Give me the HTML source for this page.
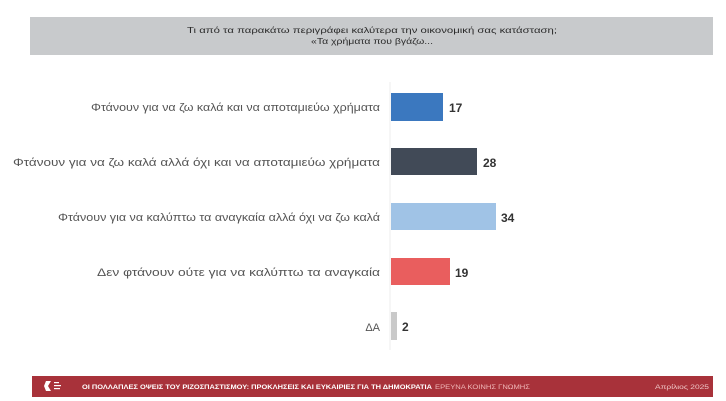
<!DOCTYPE html>
<html><head><meta charset="utf-8"><style>
body{margin:0;background:#fff;}
svg{display:block;font-family:"Liberation Sans","DejaVu Sans",sans-serif;}
</style></head><body>
<svg width="726" height="401" viewBox="0 0 726 401">
<rect x="0" y="0" width="726" height="401" fill="#fff"/>
<rect x="30" y="17" width="683" height="38" fill="#c8cacc"/>
<text x="372" y="33" font-size="8.5" fill="#2a2a2a" text-anchor="middle" textLength="370" lengthAdjust="spacingAndGlyphs">Τι από τα παρακάτω περιγράφει καλύτερα την οικονομική σας κατάσταση;</text>
<text x="372" y="44" font-size="8.5" fill="#2a2a2a" text-anchor="middle" textLength="122" lengthAdjust="spacingAndGlyphs">«Τα χρήματα που βγάζω...</text>
<line x1="390" y1="82" x2="390" y2="350" stroke="#eeeeee" stroke-width="1"/>
<g font-size="11" fill="#555" text-anchor="end">
<text x="380" y="111" textLength="289" lengthAdjust="spacingAndGlyphs">Φτάνουν για να ζω καλά και να αποταμιεύω χρήματα</text>
<text x="380" y="166" textLength="367" lengthAdjust="spacingAndGlyphs">Φτάνουν για να ζω καλά αλλά όχι και να αποταμιεύω χρήματα</text>
<text x="380" y="221" textLength="322" lengthAdjust="spacingAndGlyphs">Φτάνουν για να καλύπτω τα αναγκαία αλλά όχι να ζω καλά</text>
<text x="380" y="276" textLength="283" lengthAdjust="spacingAndGlyphs">Δεν φτάνουν ούτε για να καλύπτω τα αναγκαία</text>
<text x="380" y="331">ΔΑ</text>
</g>
<rect x="391" y="93" width="52" height="28" fill="#3b78bf"/>
<rect x="391" y="148" width="86" height="27" fill="#414a57"/>
<rect x="391" y="203" width="105" height="27" fill="#a0c3e6"/>
<rect x="391" y="258" width="59" height="27" fill="#e95e5e"/>
<rect x="391" y="312" width="6" height="28" fill="#c9c9c9"/>
<g font-size="12" font-weight="bold" fill="#333">
<text x="449" y="112">17</text>
<text x="483" y="167">28</text>
<text x="501" y="222">34</text>
<text x="455" y="277">19</text>
<text x="402" y="331">2</text>
</g>
<rect x="32" y="376" width="681" height="21" fill="#a8323a"/>
<path d="M46 381 L51 381 L48 386 L51 391 L46 391 L44 386 Z" fill="#fff"/>
<rect x="54" y="382" width="5" height="1.2" fill="#fff"/><rect x="54" y="385" width="7" height="1.2" fill="#fff"/><rect x="54" y="388" width="6" height="1.2" fill="#fff"/>
<text x="82" y="389" font-size="6" font-weight="bold" fill="#fff" textLength="350" lengthAdjust="spacingAndGlyphs">ΟΙ ΠΟΛΛΑΠΛΕΣ ΟΨΕΙΣ ΤΟΥ ΡΙΖΟΣΠΑΣΤΙΣΜΟΥ: ΠΡΟΚΛΗΣΕΙΣ ΚΑΙ ΕΥΚΑΙΡΙΕΣ ΓΙΑ ΤΗ ΔΗΜΟΚΡΑΤΙΑ</text>
<text x="435" y="389" font-size="6" fill="#f0b9b9" textLength="95" lengthAdjust="spacingAndGlyphs">ΕΡΕΥΝΑ ΚΟΙΝΗΣ ΓΝΩΜΗΣ</text>
<text x="709" y="389" font-size="6" fill="#f0c8c8" text-anchor="end" textLength="54" lengthAdjust="spacingAndGlyphs">Απρίλιος 2025</text>
</svg>
</body></html>
